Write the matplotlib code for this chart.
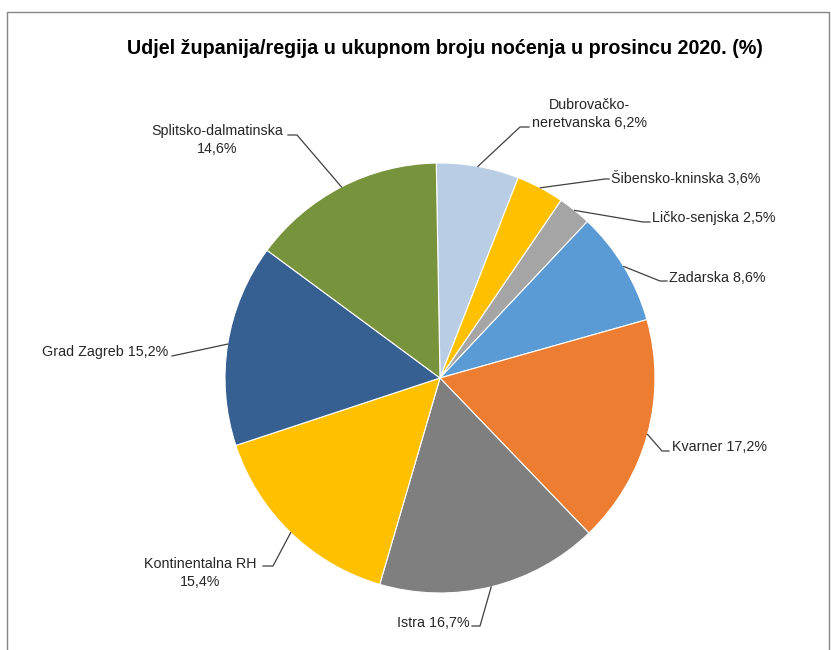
import numpy as np
import matplotlib.pyplot as plt
from matplotlib.lines import Line2D

# Data
regions = ['Dubrovačko-\nneretvanska', 'Šibensko-kninska', 'Ličko-senjska', 'Zadarska',
           'Kvarner', 'Istra', 'Kontinentalna RH', 'Grad Zagreb', 'Splitsko-dalmatinska']
shares = [6.2, 3.6, 2.5, 8.6, 17.2, 16.7, 15.4, 15.2, 14.6]
colors = ['#B9CDE5', '#FFC000', '#A5A5A5', '#5B9BD5', '#ED7D31',
          '#7F7F7F', '#FFC000', '#376092', '#77933C']

W, H = 831, 650
cx, cy, R = 440, 378, 215   # pie centre / radius in pixels
start = 91

plt.rcParams['font.family'] = ['Liberation Sans', 'DejaVu Sans']

fig = plt.figure(figsize=(W / 100, H / 100), dpi=100)
ax = fig.add_axes([(cx - R) / W, 1 - (cy + R) / H, 2 * R / W, 2 * R / H])

wedges, _ = ax.pie(shares, colors=colors, startangle=start, counterclock=False,
                   radius=1, wedgeprops=dict(edgecolor='white', linewidth=0.8))
ax.set_xlim(-1, 1)
ax.set_ylim(-1, 1)
ax.set_aspect('equal')
ax.axis('off')


def px(x, y):
    return (x - cx) / R, (cy - y) / R


# label layout: text pos (px), ha, knee (px), end x (px)
layout = [
    ((590, 114), 'center', (520, 127), 529),
    ((611, 178), 'left', (605, 179), 609),
    ((652, 218), 'left', (643, 222), 650),
    ((669, 278), 'left', (660, 281), 667),
    ((672, 447), 'left', (662, 451), 669),
    ((470, 623), 'right', (480, 626), 472),
    ((200, 573), 'center', (273, 566), 263),
    ((168, 352), 'right', (172, 356), 172),
    ((217, 140), 'center', (297, 135), 288),
]

cum = np.cumsum([0] + shares)
for i, (name, val) in enumerate(zip(regions, shares)):
    mid = np.deg2rad(start - (cum[i] + val / 2) * 3.6)
    ax0, ay0 = np.cos(mid), np.sin(mid)
    (tx, ty), ha, (kx, ky), ex = layout[i]
    kx, ky = px(kx, ky)
    ex, _ = px(ex, 0)
    ax.add_line(Line2D([ax0, kx, ex], [ay0, ky, ky], color='#404040', lw=0.9,
                       clip_on=False))
    pct = f'{val:.1f}%'.replace('.', ',')
    if name in ('Kontinentalna RH', 'Splitsko-dalmatinska'):
        txt = f'{name}\n{pct}'
    else:
        txt = f'{name} {pct}'
    x, y = px(tx, ty)
    ax.text(x, y, txt, ha=ha, va='center', fontsize=10.3, color='#262626',
            linespacing=1.45, multialignment='center' if ha == 'center' else ha)

fig.text(445 / W, 1 - 48 / H,
         'Udjel županija/regija u ukupnom broju noćenja u prosincu 2020. (%)',
         ha='center', va='center', fontsize=14.2, fontweight='bold', color='black')

# chart frame
fl, ft, fr = 7 / W, 1 - 12 / H, 829 / W
fig.add_artist(Line2D([fl, fl, fr, fr], [-0.01, ft, ft, -0.01], color='#868686',
                      lw=1, transform=fig.transFigure))

fig.savefig('out.png', dpi=100)
